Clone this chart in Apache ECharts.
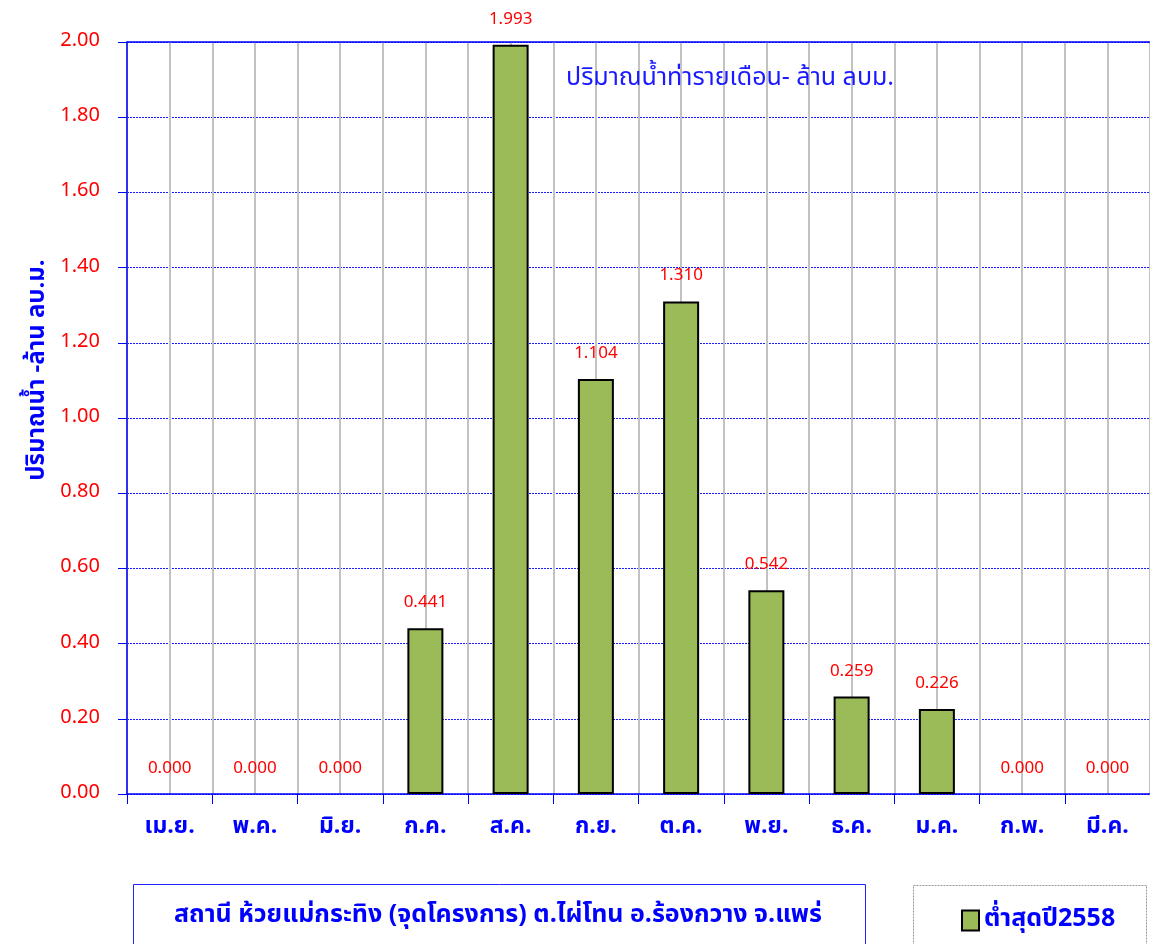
<!DOCTYPE html>
<html>
<head>
<meta charset="utf-8">
<script src="https://cdn.jsdelivr.net/npm/echarts@6/dist/echarts.min.js"></script>
<style>
  html, body { margin: 0; padding: 0; background: #fff; }
  #chart { width: 1150px; height: 944px; }
</style>
</head>
<body>
<div id="chart"></div>
<script>
const FONT = "Tahoma, 'Noto Sans Thai', 'Noto Sans', 'DejaVu Sans', sans-serif";

// data
const months = ["เม.ย.", "พ.ค.", "มิ.ย.", "ก.ค.", "ส.ค.", "ก.ย.", "ต.ค.", "พ.ย.", "ธ.ค.", "ม.ค.", "ก.พ.", "มี.ค."];
const minFlow2558 = [0, 0, 0, 0.441, 1.993, 1.104, 1.310, 0.542, 0.259, 0.226, 0, 0];
const seriesName = "ต่ำสุดปี2558";
const chartTitle = "ปริมาณน้ำท่ารายเดือน- ล้าน ลบม.";
const yName = "ปริมาณน้ำ -ล้าน ลบ.ม.";
const stationName = "สถานี ห้วยแม่กระทิง (จุดโครงการ) ต.ไผ่โทน อ.ร้องกวาง จ.แพร่";

const chart = echarts.init(document.getElementById("chart"));

// zero bars should not draw a border line on the axis
const barData = minFlow2558.map((v) => ({
  value: v,
  itemStyle: v === 0 ? { borderWidth: 0 } : undefined,
}));

const option = {
  animation: false,
  textStyle: { fontFamily: FONT },
  title: {
    text: chartTitle,
    left: 561,
    top: 62,
    textStyle: { color: "#1a1aff", fontSize: 25, fontWeight: "normal", fontFamily: FONT },
  },
  legend: {
    data: [seriesName],
    left: 956,
    top: 903,
    icon: "rect",
    itemWidth: 17,
    itemHeight: 20,
    itemGap: 7,
    textStyle: { color: "#0000ff", fontSize: 25, fontWeight: "bold", fontFamily: FONT },
  },
  grid: {
    left: 127,
    right: 0,
    top: 42,
    bottom: 150,
  },
  xAxis: [
    {
      type: "category",
      data: months,
      axisLine: { lineStyle: { color: "#0000ff", width: 1.5 } },
      axisTick: { show: true, length: 10, lineStyle: { color: "#0000ff" } },
      axisLabel: {
        color: "#0000ff",
        fontSize: 23,
        fontWeight: "bold",
        fontFamily: FONT,
        margin: 23,
      },
      splitLine: { show: false },
    },
    {
      // helper axis: top border line and gray vertical grid at every half category
      type: "value",
      min: 0,
      max: 12,
      interval: 0.5,
      position: "top",
      axisLine: { show: true, lineStyle: { color: "#0000ff", width: 1.5 } },
      axisTick: { show: false },
      axisLabel: { show: false },
      splitLine: { show: true, lineStyle: { color: "#c2c2c2", width: 2 } },
    },
  ],
  yAxis: {
    type: "value",
    min: 0,
    max: 2,
    interval: 0.2,
    axisLine: { show: true, lineStyle: { color: "#0000ff", width: 1.5 } },
    axisTick: { show: true, length: 9, lineStyle: { color: "#0000ff" } },
    axisLabel: {
      color: "#ff0000",
      fontSize: 20,
      fontFamily: FONT,
      margin: 27,
      formatter: (v) => v.toFixed(2),
    },
    splitLine: { show: true, lineStyle: { color: "#1a1aff", type: [2, 1], width: 1 } },
  },
  series: [
    {
      name: seriesName,
      type: "bar",
      xAxisIndex: 0,
      data: barData,
      barWidth: 36,
      itemStyle: { color: "#9bbb59", borderColor: "#000000", borderWidth: 2 },
      label: {
        show: true,
        position: "top",
        distance: 16,
        color: "#ff0000",
        fontSize: 17,
        fontFamily: FONT,
        formatter: (p) => p.value.toFixed(3),
      },
    },
  ],
  graphic: [
    {
      type: "text",
      x: 39,
      y: 370,
      rotation: Math.PI / 2,
      style: {
        text: yName,
        fill: "#0000ff",
        font: "bold 24px " + FONT,
        textAlign: "center",
        textVerticalAlign: "middle",
      },
    },
    {
      type: "rect",
      shape: { x: 133.5, y: 884.5, width: 732, height: 70 },
      style: { fill: "none", stroke: "#2222ff", lineWidth: 1 },
    },
    {
      type: "text",
      x: 498,
      y: 917,
      style: {
        text: stationName,
        fill: "#0000ff",
        font: "bold 25px " + FONT,
        textAlign: "center",
        textVerticalAlign: "middle",
      },
    },
    {
      type: "rect",
      shape: { x: 913.5, y: 885.5, width: 233, height: 70 },
      style: { fill: "none", stroke: "#999999", lineWidth: 1, lineDash: [2, 1] },
    },
  ],
};

chart.setOption(option);
</script>
</body>
</html>
